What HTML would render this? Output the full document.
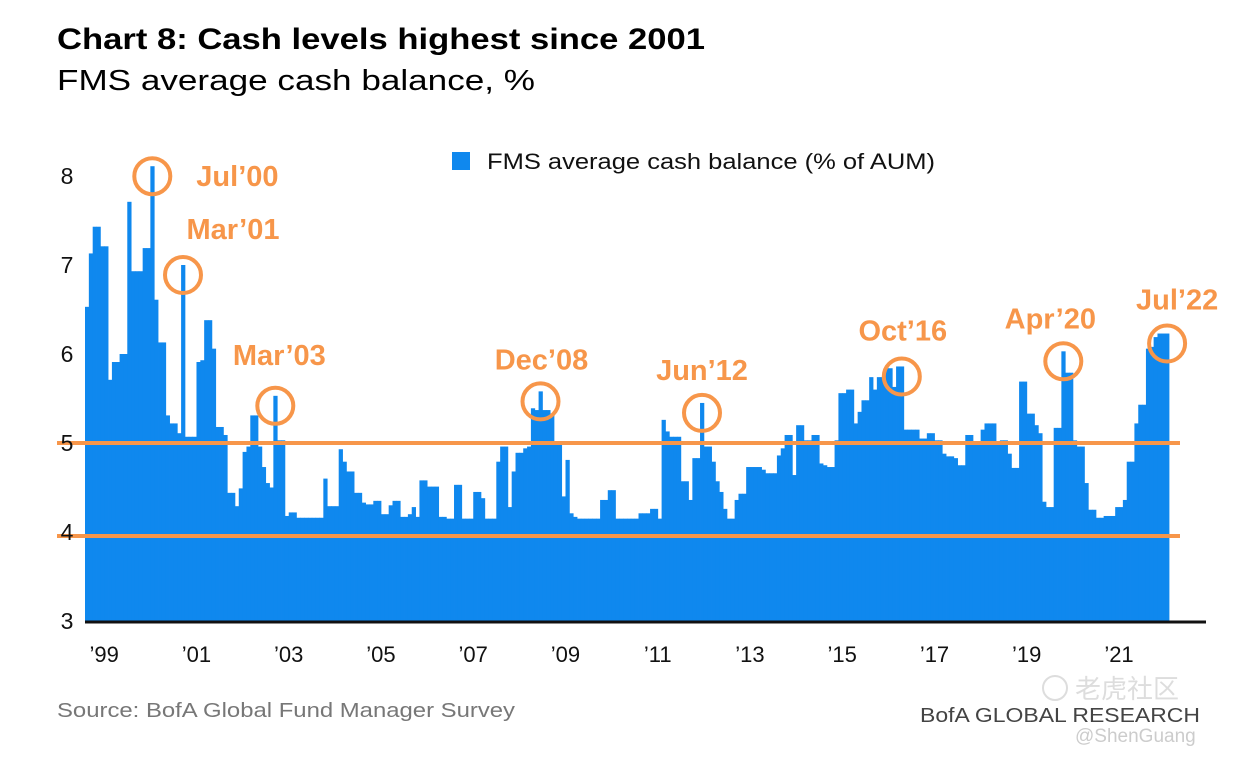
<!DOCTYPE html>
<html><head><meta charset="utf-8">
<style>
html,body{margin:0;padding:0;background:#fff;}
svg{display:block;font-family:"Liberation Sans","Noto Sans CJK SC",sans-serif;}
</style></head>
<body>
<svg id="chart" width="1233" height="761" viewBox="0 0 1233 761" xmlns="http://www.w3.org/2000/svg">
  <text x="57" y="49" font-size="30" font-weight="bold" fill="#000" textLength="648" lengthAdjust="spacingAndGlyphs">Chart 8: Cash levels highest since 2001</text>
  <text x="57" y="90" font-size="29" fill="#000" textLength="478" lengthAdjust="spacingAndGlyphs">FMS average cash balance, %</text>
  <g id="bars"></g>
  <g id="refs"></g>
  <line x1="85" y1="622" x2="1206" y2="622" stroke="#111" stroke-width="3"/>
  <g id="yticks"></g>
  <g id="xticks"></g>
  <g id="annos"></g>
  <rect x="452" y="152" width="18" height="18" fill="#0f88ee"/>
  <text x="487" y="169" font-size="22" fill="#111" textLength="448" lengthAdjust="spacingAndGlyphs">FMS average cash balance (% of AUM)</text>
  <text x="57" y="717" font-size="20" fill="#777" textLength="458" lengthAdjust="spacingAndGlyphs">Source: BofA Global Fund Manager Survey</text>
  <text x="1075" y="698" font-size="26" fill="#ddd">老虎社区</text>
  <circle cx="1055" cy="688" r="12" fill="none" stroke="#ddd" stroke-width="2"/>
  <text x="920" y="722" font-size="20" fill="#444" textLength="280" lengthAdjust="spacingAndGlyphs">BofA GLOBAL RESEARCH</text>
  <text x="1075" y="742" font-size="19" fill="#ccc">@ShenGuang</text>
</svg>
<script>
const values = [
6.53,7.13,7.43,7.43,7.21,7.21,5.71,5.91,5.91,6.0,6.0,7.71,6.93,6.93,6.93,7.19,7.19,8.11,6.61,6.13,
6.13,5.31,5.22,5.22,5.11,7.0,5.07,5.07,5.07,5.91,5.93,6.38,6.38,6.06,5.18,5.18,5.09,4.44,4.44,4.29,
4.49,4.9,4.96,5.31,5.31,4.96,4.73,4.55,4.5,5.53,5.03,5.03,4.18,4.22,4.22,4.16,4.16,4.16,4.16,4.16,
4.16,4.16,4.6,4.29,4.29,4.29,4.93,4.79,4.68,4.68,4.44,4.44,4.33,4.31,4.31,4.35,4.35,4.2,4.2,4.3,
4.35,4.35,4.17,4.17,4.2,4.28,4.17,4.58,4.58,4.51,4.51,4.51,4.17,4.17,4.15,4.15,4.53,4.53,4.15,4.15,
4.15,4.45,4.45,4.38,4.15,4.15,4.15,4.79,4.96,4.96,4.28,4.68,4.89,4.89,4.94,4.96,5.39,5.37,5.58,5.37,
5.37,5.33,5.0,5.0,4.4,4.81,4.21,4.17,4.15,4.15,4.15,4.15,4.15,4.15,4.36,4.36,4.47,4.47,4.15,4.15,
4.15,4.15,4.15,4.15,4.21,4.21,4.21,4.26,4.26,4.15,5.26,5.13,5.07,5.07,5.07,4.57,4.57,4.36,4.83,4.83,
5.45,4.96,4.96,4.79,4.57,4.45,4.26,4.15,4.15,4.36,4.43,4.43,4.73,4.73,4.73,4.73,4.70,4.66,4.66,4.66,
4.86,4.94,5.09,5.09,4.64,5.2,5.2,5.03,5.03,5.09,5.09,4.77,4.75,4.73,4.73,5.03,5.56,5.56,5.6,5.6,
5.22,5.35,5.48,5.48,5.74,5.6,5.74,5.74,5.84,5.84,5.63,5.86,5.86,5.15,5.15,5.15,5.15,5.05,5.05,5.11,
5.11,5.03,5.03,4.88,4.85,4.85,4.83,4.75,4.75,5.09,5.09,5.0,5.0,5.15,5.22,5.22,5.22,4.98,5.03,5.03,
4.88,4.72,4.72,5.69,5.69,5.33,5.33,5.2,5.11,4.34,4.28,4.28,5.17,5.17,6.03,5.79,5.79,5.03,4.96,4.96,
4.55,4.25,4.25,4.16,4.16,4.18,4.18,4.18,4.28,4.28,4.36,4.79,4.79,5.22,5.43,5.43,6.06,6.08,6.19,6.23,
6.23,6.23
];
const yTicks = [3,4,5,6,7,8];
const refLevels = [5,4];
const xLabels = ["\u201999","\u201901","\u201903","\u201905","\u201907","\u201909","\u201911","\u201913","\u201915","\u201917","\u201919","\u201921"];
const xLabelYears = [1999,2001,2003,2005,2007,2009,2011,2013,2015,2017,2019,2021];
const annoLabels = ["Jul\u201900","Mar\u201901","Mar\u201903","Dec\u201908","Jun\u201912","Oct\u201916","Apr\u201920","Jul\u201922"];
const annoIndex = [17,25,49,118,160,212,254,281];

const NS = "http://www.w3.org/2000/svg";
const X0 = 85, X1 = 1169, startYear = 1999, startMonth = 1; // Feb 1999
const bw = (X1 - X0) / values.length;
function xPos(i){ return X0 + i * bw; }
function yPos(v){ return 621 - (v - 3) * 89; }
function mk(tag, attrs){ const e = document.createElementNS(NS, tag); for (const k in attrs) e.setAttribute(k, attrs[k]); return e; }

const gb = document.getElementById('bars');
values.forEach((v, i) => {
  const r = mk('rect', {x: xPos(i).toFixed(2), y: yPos(v).toFixed(2), width: (bw + 0.4).toFixed(2), height: (621 - yPos(v)).toFixed(2), fill: '#0f88ee'});
  
  
  gb.appendChild(r);
});

const gr = document.getElementById('refs');
refLevels.forEach(lv => {
  const y = lv === 4 ? yPos(lv) + 4 : yPos(lv);
  const l = mk('line', {x1: 57, x2: 1180, y1: y, y2: y, stroke: '#f7964a', 'stroke-width': 4});
  
  
  gr.appendChild(l);
});

const gy = document.getElementById('yticks');
yTicks.forEach(t => {
  const tx = mk('text', {x: 67, y: yPos(t) + 8, 'font-size': 23, 'text-anchor': 'middle', fill: '#111'});
  tx.textContent = t;
  
  
  gy.appendChild(tx);
});

const gx = document.getElementById('xticks');
xLabels.forEach((lab, k) => {
  const i = (xLabelYears[k] - startYear) * 12 - startMonth;
  const cx = xPos(i) + 23;
  const tx = mk('text', {x: cx.toFixed(1), y: 662, 'font-size': 22, 'text-anchor': 'middle', fill: '#111'});
  tx.textContent = lab;
  
  
  gx.appendChild(tx);
});

const ga = document.getElementById('annos');
const labelOff = [[44,0],[50,-46],[4,-51],[1,-42],[0,-43],[1,-46],[-13,-43],[10,-44]];
const anchors = ['start','middle','middle','middle','middle','middle','middle','middle'];
annoIndex.forEach((idx, k) => {
  const cx = xPos(idx) + bw / 2;
  const cy = yPos(values[idx]) + 10;
  const c = mk('circle', {cx: cx.toFixed(1), cy: cy.toFixed(1), r: 18, fill: 'none', stroke: '#f7964a', 'stroke-width': 4});
  
  
  ga.appendChild(c);
  const tx = mk('text', {x: (cx + labelOff[k][0]).toFixed(1), y: (cy + labelOff[k][1] + 10).toFixed(1), 'font-size': 29, 'font-weight': 'bold', fill: '#f7964a', 'text-anchor': anchors[k]});
  tx.textContent = annoLabels[k];
  
  
  ga.appendChild(tx);
});
</script>
</body></html>
